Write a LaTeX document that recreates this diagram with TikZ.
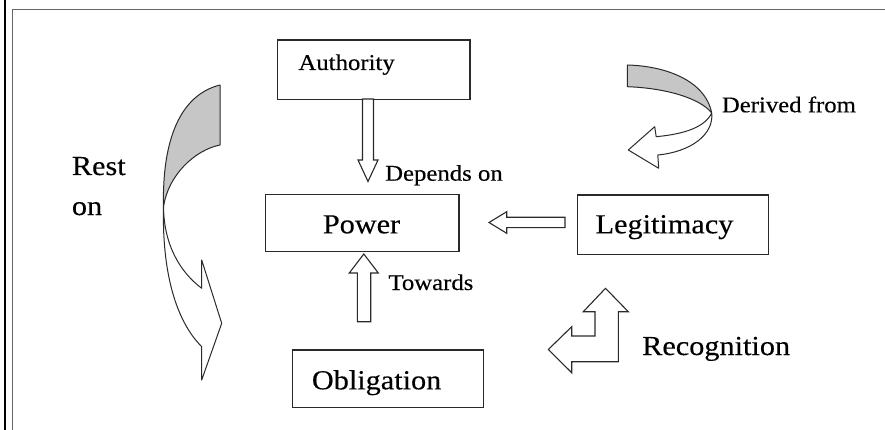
\documentclass[tikz,border=0pt]{standalone}
\usepackage{fontspec}
\setmainfont{Liberation Serif}[FakeStretch=1.1,FakeBold=0.3]
\definecolor{ink}{HTML}{2A2A2A}
\definecolor{frame}{HTML}{666666}
\definecolor{shade}{HTML}{C6C6C6}
\begin{document}
\begin{tikzpicture}[x=1pt,y=-1pt,
  box/.style={draw=ink,line width=1.4pt,anchor=north west,inner sep=0pt},
  big/.style={text=black,inner sep=0pt,anchor=base west,font=\fontsize{27.5}{32}\selectfont},
  small/.style={text=black,inner sep=0pt,anchor=base west,font=\fontsize{22.5}{27}\selectfont},
  blockarrow/.style={draw=ink,line width=1.1pt,fill=white,line join=miter},
  ribbon/.style={draw=ink,line width=1pt,line join=round}]
\useasboundingbox (0,0) rectangle (885,430);
% frame
\draw[black,line width=2pt] (5,0) -- (5,430);
\draw[frame,line width=1.3pt] (12.6,430) -- (12.6,9.6) -- (885,9.6);
% boxes
\node[box,minimum width=192.6pt,minimum height=59.7pt] (authbox) at (276.7,39.3) {};
\node[box,minimum width=193.3pt,minimum height=56.7pt] (powbox) at (265,194) {};
\node[box,minimum width=190.8pt,minimum height=59pt] (legbox) at (576.7,194.5) {};
\node[box,minimum width=191pt,minimum height=57.4pt] (oblbox) at (291.7,349.3) {};
% texts
\node[small] (authtext) at (298.3,70) {Authority};
\node[big] (powtext) at (322.7,233.3) {Power};
\node[big] (legtext) at (595.4,233.3) {Legitimacy};
\node[big] (obltext) at (311.7,389.3) {Obligation};
\node[big] (rectext) at (642,355) {Recognition};
\node[small] (deptext) at (385,180.7) {Depends on};
\node[small] (towtext) at (388.3,290) {Towards};
\node[small] (dertext) at (721.7,112.3) {Derived from};
\node[big] (resttext) at (71.7,175) {Rest};
\node[big] (ontext) at (71.7,215) {on};
% Authority -> Power
\draw[blockarrow] (362.5,99) -- (373.5,99) -- (373.5,160) -- (378,160) -- (368,181.5)
  -- (358,160) -- (362.5,160) -- cycle;
% Obligation -> Power
\draw[blockarrow] (357.3,321.7) -- (370.7,321.7) -- (370.7,273) -- (378.3,273) -- (363.8,254)
  -- (349.3,273) -- (357.3,273) -- cycle;
% Legitimacy -> Power
\draw[blockarrow] (565,217.3) -- (565,227.7) -- (506.7,227.7) -- (506.7,233.3) -- (489,222.5)
  -- (506.7,211.7) -- (506.7,217.3) -- cycle;
% Recognition bent arrow
\draw[blockarrow] (605.5,288.3) -- (628.3,311.7) -- (618.3,311.7) -- (618.3,361.7)
  -- (571.7,361.7) -- (571.7,372.7) -- (548.3,349.5) -- (571.7,326.7) -- (571.7,336)
  -- (595,336) -- (595,311.7) -- (583.3,311.7) -- cycle;
% Rest on ribbon
\draw[ribbon,fill=shade] (220,85) -- (220,145) .. controls (195,150) and (168,175) .. (163.5,207)
  .. controls (162,140) and (180,95) .. (220,85) -- cycle;
\draw[ribbon,fill=white] (163.5,207) .. controls (164,245) and (180,272) .. (201.7,288.3)
  -- (201.7,260) -- (221.7,323.3) -- (201.7,380) -- (201.7,346.7)
  .. controls (175,320) and (162,270) .. (163.5,207) -- cycle;
% Derived from ribbon
\draw[ribbon,fill=shade] (627.3,65) -- (627.3,86.7) .. controls (665,88) and (700,98) .. (711.7,113)
  .. controls (705,80) and (665,66) .. (627.3,65) -- cycle;
\draw[ribbon,fill=white] (711.7,113) .. controls (705,127) and (685,134) .. (656.2,136.7)
  -- (654.7,126.7) -- (628.3,150) -- (658.7,168.3) -- (657.8,155)
  .. controls (690,152) and (714,135) .. (711.7,113) -- cycle;
\end{tikzpicture}
\end{document}
